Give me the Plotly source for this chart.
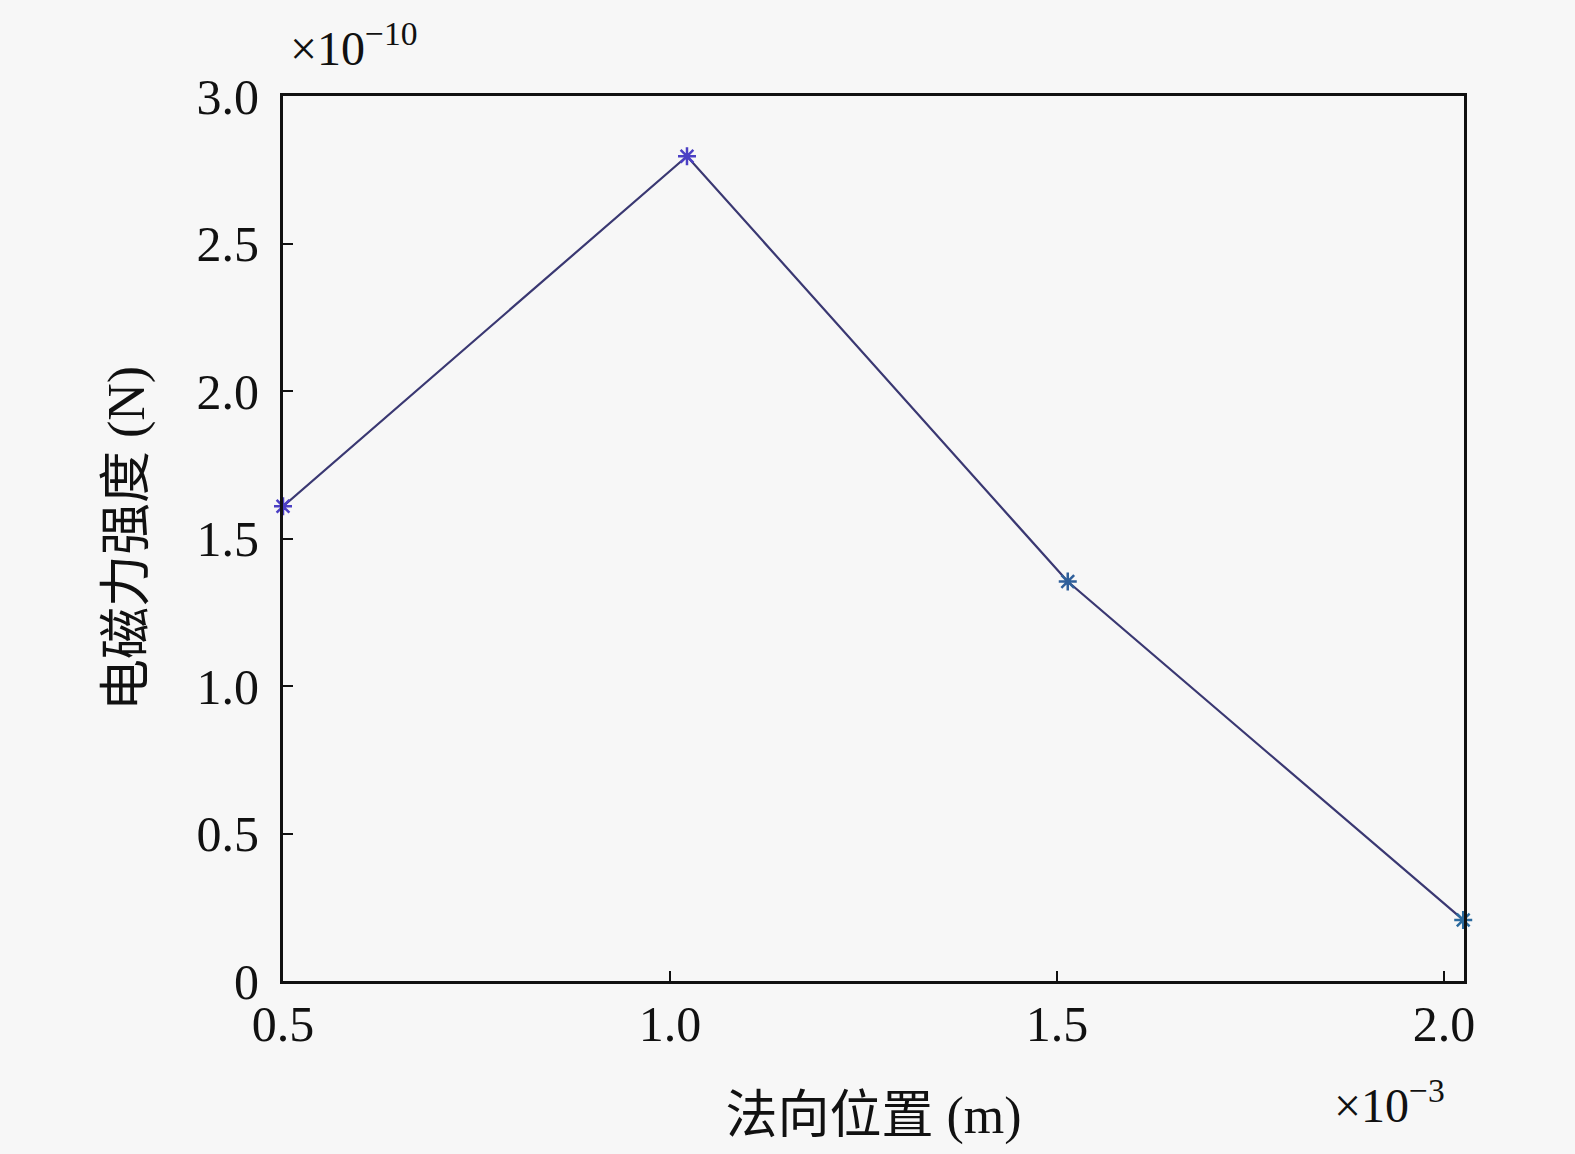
import plotly.graph_objects as go

# Data (x in units of 1e-3 m, y in units of 1e-10 N)
x_pos = [0.5, 1.022, 1.514, 2.025]
force = [1.609, 2.796, 1.354, 0.207]
marker_colors = ["#4b3fc4", "#4b3fc4", "#2f5f9a", "#2a6a9e"]
x_ticks = [0.5, 1.0, 1.5, 2.0]
x_tick_text = ["0.5", "1.0", "1.5", "2.0"]
y_ticks = [0, 0.5, 1.0, 1.5, 2.0, 2.5, 3.0]
y_tick_text = ["0", "0.5", "1.0", "1.5", "2.0", "2.5", "3.0"]

FONT = "Liberation Serif, Times New Roman, Noto Sans CJK SC, serif"
BG = "#f7f7f7"

fig = go.Figure()
fig.add_trace(go.Scatter(
    x=x_pos, y=force, mode="lines+markers",
    line=dict(color="#3a3872", width=2.2),
    marker=dict(symbol="asterisk-open", size=15, color=marker_colors,
                line=dict(width=2.5, color=marker_colors)),
    showlegend=False, cliponaxis=False,
))

fig.update_layout(
    width=1575, height=1154,
    paper_bgcolor=BG, plot_bgcolor=BG,
    margin=dict(l=283, r=111, t=96, b=173),
    font=dict(family=FONT, size=50, color="#111111"),
    xaxis=dict(
        range=[0.5, 2.026], tickvals=x_ticks, ticktext=x_tick_text,
        ticks="inside", ticklen=10, tickwidth=2, tickcolor="#111111",
        showline=True, linecolor="#111111", linewidth=3, mirror=True,
        showgrid=False, zeroline=False,
        tickfont=dict(family=FONT, size=50), ticklabelstandoff=-3,
        title=dict(text="法向位置 (m)", font=dict(family=FONT, size=52), standoff=46),
    ),
    yaxis=dict(
        range=[0, 3.0], tickvals=y_ticks, ticktext=y_tick_text,
        ticks="inside", ticklen=10, tickwidth=2, tickcolor="#111111",
        showline=True, linecolor="#111111", linewidth=3, mirror=True,
        showgrid=False, zeroline=False,
        tickfont=dict(family=FONT, size=50), ticklabelstandoff=11,
        title=dict(text="电磁力强度 (N)", font=dict(family=FONT, size=52), standoff=36),
    ),
    annotations=[
        dict(text="×10<sup>−10</sup>", xref="paper", yref="paper",
             x=0.004, y=1.058, xanchor="left", yanchor="middle",
             showarrow=False, font=dict(family=FONT, size=48)),
        dict(text="×10<sup>−3</sup>", xref="paper", yref="paper",
             x=0.888, y=-0.137, xanchor="left", yanchor="middle",
             showarrow=False, font=dict(family=FONT, size=48)),
    ],
)

fig.write_html("out.html", config={"displayModeBar": False},
               post_script="document.body.style.margin='0';document.body.style.background='#f7f7f7';")
